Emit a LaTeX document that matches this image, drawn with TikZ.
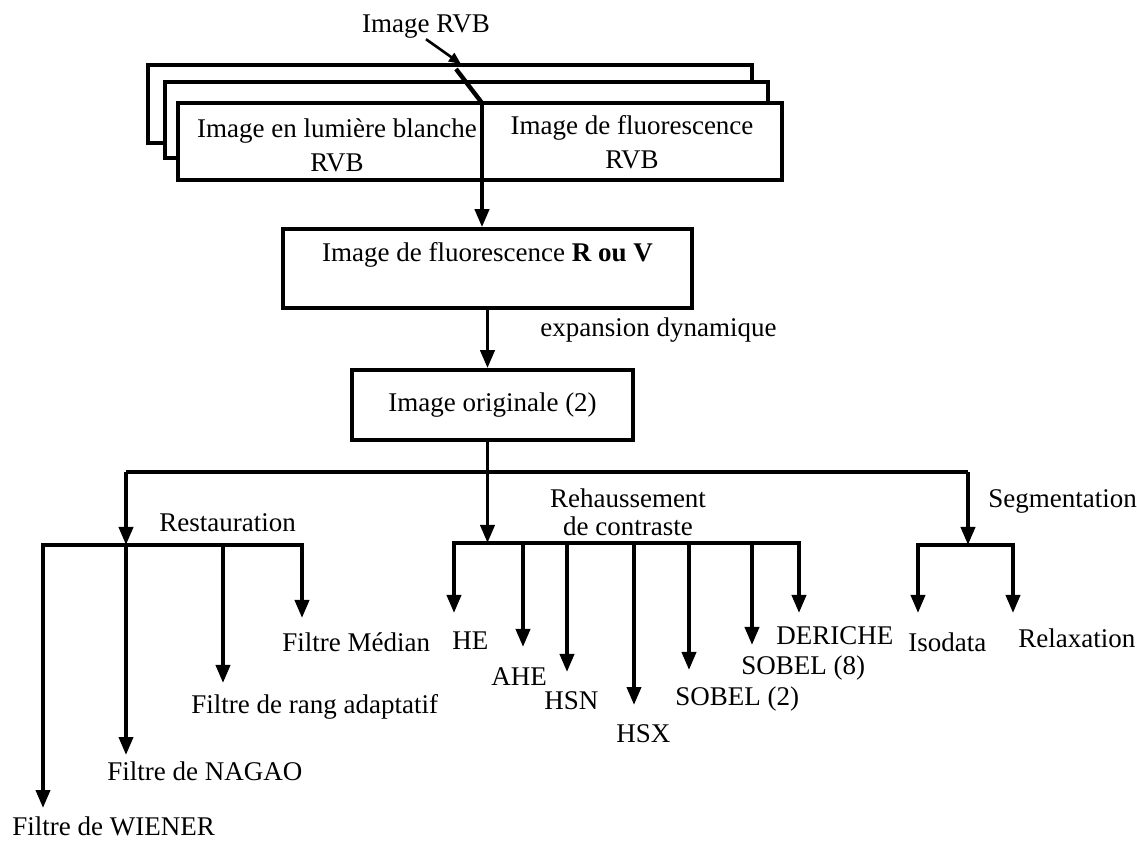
\documentclass[tikz,border=0pt]{standalone}
\usepackage{fontspec}
\setmainfont{Liberation Serif}
\usepackage{tikz}
\usetikzlibrary{arrows.meta,positioning}

\tikzset{
  box/.style={draw, line width=1.8pt, fill=white, inner sep=0pt, align=center},
  txt/.style={inner sep=0pt, anchor=base west},
  arr/.style={line width=1.9pt, -{Triangle[length=9pt,width=7pt]}},
  wire/.style={line width=1.9pt},
}

\begin{document}
\begin{tikzpicture}[x=0.5pt, y=-0.5pt, font=\fontsize{13.5}{17}\selectfont]
  \useasboundingbox (0,0) rectangle (1137,845);

  % Define nodes
  \node[box, minimum width=302pt, minimum height=39pt] (back) at (450,104) {}; %
  \node[box, minimum width=301.5pt, minimum height=38pt] (middle) at (466.5,120) {}; %
  \node[box, minimum width=302pt, minimum height=38.5pt] (front) at (480,141.5) {};
  \node[inner sep=0pt, align=center] (white) at (337,145) {Image en lumière blanche\\RVB};
  \node[inner sep=0pt, align=center] (fluorgb) at (632,142) {Image de fluorescence\\RVB};
  \node[inner sep=0pt, anchor=base] (rvb) at (426,33) {Image RVB};

  \node[box, minimum width=204.5pt, minimum height=39.5pt] (fluo) at (487.5,268.5)
    {Image de fluorescence \textbf{R ou V}\\~};
  \node[txt] (expdyn) at (540,337) {expansion dynamique};
  \node[box, minimum width=140.5pt, minimum height=35pt] (orig) at (492.5,405) {Image originale (2)};

  \node[txt] (restau) at (159,532) {Restauration};
  \node[inner sep=0pt, align=center] (rehauss) at (628,512) {Rehaussement\\[-3pt]de contraste};
  \node[txt] (segm) at (988,508) {Segmentation};

  \node[txt] (wiener) at (12,835) {Filtre de WIENER};
  \node[txt] (nagao) at (107,780) {Filtre de NAGAO};
  \node[txt] (rang) at (191,713) {Filtre de rang adaptatif};
  \node[txt] (median) at (282,652) {Filtre Médian};

  \node[txt] (he) at (452,650) {HE};
  \node[txt] (ahe) at (491,685) {AHE};
  \node[txt] (hsn) at (544,710) {HSN};
  \node[txt] (hsx) at (616,742) {HSX};
  \node[txt] (sobtwo) at (675,705) {SOBEL (2)};
  \node[txt] (sobeight) at (741,675) {SOBEL (8)};
  \node[txt] (deriche) at (776,645) {DERICHE};

  \node[txt] (isodata) at (908,652) {Isodata};
  \node[txt] (relax) at (1018,647) {Relaxation};

  % Junctions and arrow tips
  \coordinate (dtop) at (482,103);
  \coordinate (dbot) at (482,180);
  \coordinate (rvbtip) at (461,64);
  \coordinate (rvbin) at (456,69);
  \coordinate (busL) at (126,472);
  \coordinate (busR) at (968,472);
  \coordinate (rs) at (126,545);
  \coordinate (rh) at (487.5,543);
  \coordinate (sg) at (968,545);

  \coordinate (tWiener) at (43,808);
  \coordinate (tNagao) at (126,755);
  \coordinate (tRang) at (223,683);
  \coordinate (tMedian) at (302,618);
  \coordinate (tHE) at (454,613);
  \coordinate (tAHE) at (523,647);
  \coordinate (tHSN) at (567,672);
  \coordinate (tHSX) at (634,705);
  \coordinate (tSobTwo) at (689,670);
  \coordinate (tSobEight) at (752,645);
  \coordinate (tDeriche) at (799,613);
  \coordinate (tIso) at (918,613);
  \coordinate (tRelax) at (1013,613);

  % Edges
  \draw[line width=1.3pt, -{Triangle[length=6pt,width=5pt]}] (rvb.south) -- (rvbtip);
  \draw[line width=2.2pt] (rvbin) -- (dtop);
  \draw[line width=1.8pt] (dtop) -- (dbot);
  \draw[arr] (dbot) -- (dbot |- fluo.north);
  \draw[arr] (fluo.south) -- (fluo.south |- orig.north);

  \draw[wire] (busL) -- (busR);
  \draw[arr] (orig.south -| rh) -- (rh);
  \draw[arr] (busL) -- (rs);
  \draw[arr] (busR) -- (sg);

  % Restauration
  \draw[arr] (rs) -| (tWiener);
  \draw[arr] (rs) -| (tMedian);
  \draw[arr] (rs) -- (tNagao);
  \draw[arr] (rs -| tRang) -- (tRang);

  % Rehaussement de contraste
  \draw[arr] (rh) -| (tHE);
  \draw[arr] (rh) -| (tDeriche);
  \foreach \t in {tAHE, tHSN, tHSX, tSobTwo, tSobEight}
    \draw[arr] (rh -| \t) -- (\t);

  % Segmentation
  \draw[arr] (sg) -| (tIso);
  \draw[arr] (sg) -| (tRelax);
\end{tikzpicture}
\end{document}
